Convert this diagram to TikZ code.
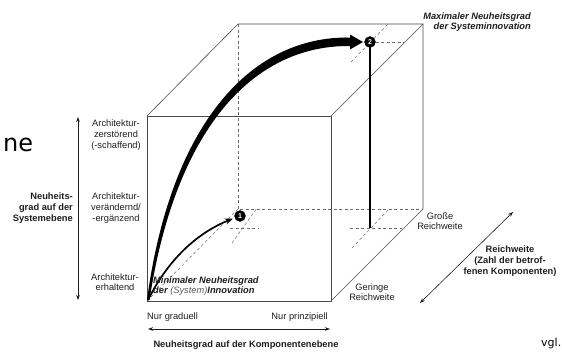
\documentclass[tikz,border=0pt]{standalone}
\usepackage{fontspec}
\setmainfont{Liberation Sans}
\newfontfamily\slidefont{DejaVu Sans}
\usepackage{xcolor}
\definecolor{cEdge}{HTML}{4A4A4A}
\definecolor{cHidden}{HTML}{6A6A6A}
\definecolor{cText}{HTML}{1E1E1E}
\definecolor{cSoft}{HTML}{5A5A5A}
\usepackage{tikz}
\usetikzlibrary{arrows.meta,calc}
\newcommand{\lblsize}{\fontsize{9.3}{10.6}\selectfont}
\tikzset{
  cube-edge/.style={draw=cEdge,line width=0.6pt},
  cube-hidden/.style={draw=cHidden,line width=0.5pt,dash pattern=on 3pt off 2.5pt},
  guide/.style={draw=cHidden,line width=0.5pt,dash pattern=on 3pt off 2.5pt},
  axis-arrow/.style={{Stealth[length=5pt,width=3.6pt]}-{Stealth[length=5pt,width=3.6pt]},
    line width=0.6pt,draw=cText},
  arrow-min/.style={-{Stealth[length=8pt,width=6pt]},line width=1.7pt,draw=black},
  node-lbl/.style={font=\lblsize,text=cText,align=center,inner sep=0pt},
  node-lbl-bold/.style={node-lbl,font=\lblsize\bfseries},
  node-lbl-emph/.style={node-lbl,font=\lblsize\bfseries\itshape},
  node-marker/.style={circle,fill=black,draw=black,text=white,inner sep=0pt,
    minimum size=11pt,font=\fontsize{7}{7}\selectfont\bfseries},
}

\begin{document}
\begin{tikzpicture}[x=1pt,y=-1pt]
  \useasboundingbox (0,0) rectangle (562,351);
  % cube corners
  \coordinate (fbl) at (147,301);
  \coordinate (fbr) at (331,301);
  \coordinate (ftl) at (147,116);
  \coordinate (ftr) at (331,116);
  \coordinate (bbl) at (238,209);
  \coordinate (bbr) at (423,209);
  \coordinate (btl) at (238,24);
  \coordinate (btr) at (423,24);
  % hidden edges
  \draw[cube-hidden] (btl) -- (bbl) -- (bbr);
  \draw[cube-hidden] (fbl) -- (bbl);
  % visible edges
  \draw[cube-edge] (fbl) rectangle (ftr);
  \draw[cube-edge] (ftl) -- (btl) -- (btr) -- (ftr);
  \draw[cube-edge] (btr) -- (bbr) -- (fbr);

  % points and their feet
  \coordinate (o) at (148,300);
  \coordinate (f1) at (241,228);
  \coordinate (f2) at (370,228);
  \draw[guide] ($(f1)+(-11,0)$) -- ($(f1)+(17,0)$);
  \draw[guide] ($(f1)+(-9,15)$) -- ($(f1)+(16,-20)$);
  \draw[guide] ($(f2)+(-20,0)$) -- ($(f2)+(32,0)$);
  \draw[guide] ($(f2)+(-18,20)$) -- ($(f2)+(19,-19)$);
  \draw[guide] (370,42) -- ++(35,0);
  \draw[guide] ($(370,42)+(-19,20)$) -- ($(370,42)+(18,-18)$);
  \draw[line width=1.6pt] (370,42) -- (f2);

  % arrows
  \draw[arrow-min] (o) .. controls (170,256) and (200,232) .. (233,218.5);
  \fill (147,300) .. controls (170,128) and (248,36) .. (350,37.5)
    -- (350,34.5) -- (363,42) -- (350,49.5) -- (350,46)
    .. controls (251,45) and (175,132) .. (149.5,300) -- cycle;
  \node[node-marker] (p1) at (240,216) {1};
  \node[node-marker] (p2) at (370,42) {2};

  % axes
  \coordinate (ax-top) at (78,117);
  \coordinate (ax-bot) at (78,300);
  \coordinate (ax-l) at (148,329);
  \coordinate (ax-r) at (330,329);
  \coordinate (ax-near) at (420,303);
  \coordinate (ax-far) at (513,212);
  \draw[axis-arrow] (ax-top) -- (ax-bot);
  \draw[axis-arrow] (ax-l) -- (ax-r);
  \draw[axis-arrow] (ax-near) -- (ax-far);

  % labels
  \node[node-lbl] (l-zer) at (116,135) {Architektur-\\zerstörend\\(-schaffend)};
  \node[node-lbl] (l-ver) at (116,208) {Architektur-\\verändernd/\\-ergänzend};
  \node[node-lbl] (l-erh) at (115,282) {Architektur-\\erhaltend};
  \node[node-lbl-bold,align=right,anchor=east] (l-sys) at (73,208)
    {Neuheits-\\grad auf der\\Systemebene};
  \node[node-lbl-emph,align=right,anchor=east] (l-max) at (531,22)
    {Maximaler Neuheitsgrad\\der Systeminnovation};
  \node[node-lbl-emph,align=left,anchor=west] (l-min) at (153,286)
    {Minimaler Neuheitsgrad\\der {\mdseries\color{cSoft}(System)}Innovation};
  \node[node-lbl,anchor=west] (l-grad) at (147,317) {Nur graduell};
  \node[node-lbl,anchor=east] (l-prin) at (328,317) {Nur prinzipiell};
  \node[node-lbl-bold] (l-komp) at (246,345) {Neuheitsgrad auf der Komponentenebene};
  \node[node-lbl] (l-gross) at (440,221) {Große\\Reichweite};
  \node[node-lbl] (l-ger) at (372,292) {Geringe\\Reichweite};
  \node[node-lbl-bold] (l-reich) at (510,261)
    {Reichweite\\(Zahl der betrof-\\fenen Komponenten)};
  \node[anchor=base west,inner sep=0pt,font=\slidefont\fontsize{24}{24}\selectfont]
    (l-ne) at (3,151) {ne};
  \node[anchor=base west,inner sep=0pt,font=\slidefont\fontsize{11}{11}\selectfont]
    (l-vgl) at (541,346) {vgl.};
\end{tikzpicture}
\end{document}
